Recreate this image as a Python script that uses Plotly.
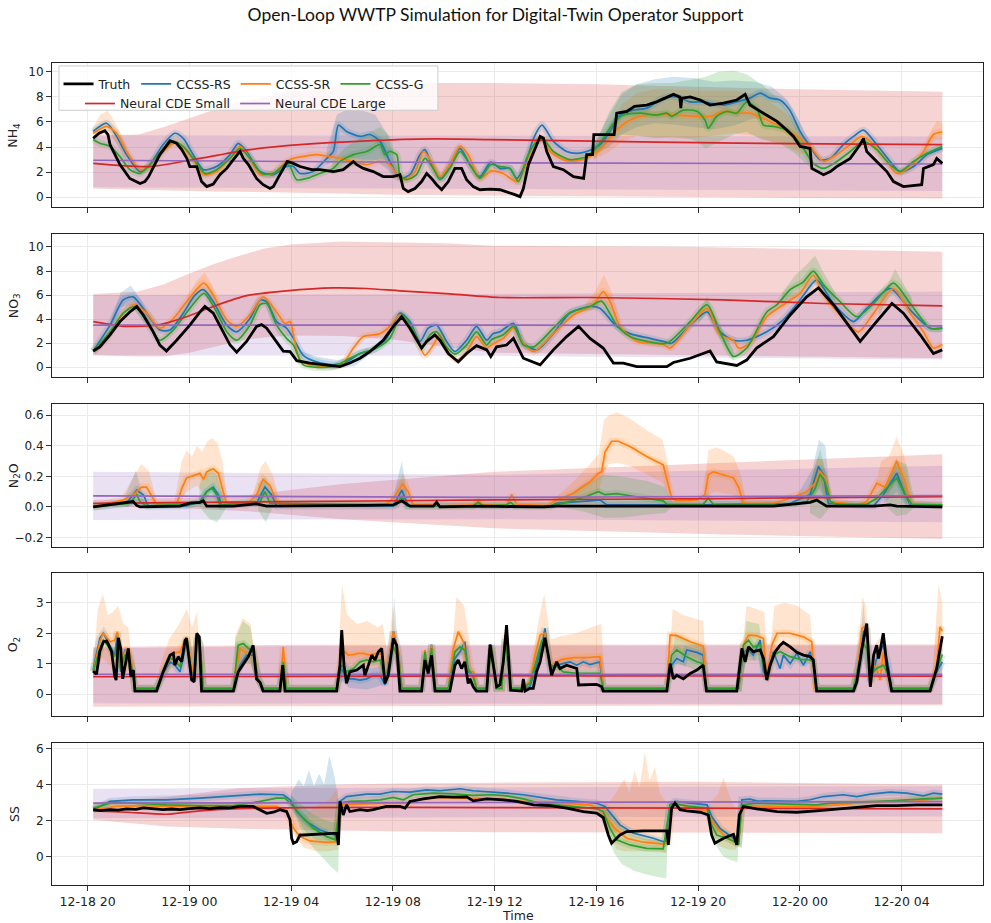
import numpy as np
import pandas as pd
import plotly.graph_objects as go

BASE = pd.Timestamp("2024-12-18 20:00")

# ---------------- NH4 ----------------
NH4_TRUTH = [(0.22,4.7),(0.45,5.1),(0.68,5.3),(0.8,5.0),(0.88,4.2),(1.27,2.6),(1.66,1.5),(2.06,1.1),(2.25,1.25),(2.4,1.65),(2.84,3.4),(3.24,4.5),(3.5,4.3),(3.7,3.8),(3.9,3.1),(4.02,2.45),(4.29,2.45),(4.48,1.25),(4.68,0.85),(4.94,1.05),(5.2,1.8),(5.47,2.3),(5.73,3.0),(5.99,3.65),(6.12,3.1),(6.32,2.6),(6.64,1.5),(6.9,1.0),(7.17,0.7),(7.3,0.85),(7.56,1.8),(7.76,2.45),(7.85,2.85),(8.09,2.7),(8.35,2.45),(8.81,2.2),(9.13,2.2),(9.66,2.05),(10.05,2.2),(10.45,2.85),(10.58,2.6),(10.84,2.3),(11.23,2.05),(11.62,1.65),(12.0,1.65),(12.28,1.8),(12.41,0.7),(12.6,0.45),(12.87,0.7),(13.13,1.25),(13.33,1.9),(13.52,1.5),(13.72,1.0),(13.92,0.6),(14.18,1.25),(14.44,2.3),(14.7,2.3),(14.9,1.4),(15.16,0.85),(15.42,0.6),(15.82,0.65),(16.21,0.6),(16.47,0.45),(16.74,0.25),(17.0,0.05),(17.13,0.7),(17.33,2.6),(17.53,3.65),(17.79,4.85),(17.92,4.7),(18.05,3.65),(18.31,2.45),(18.7,2.2),(19.1,1.65),(19.5,1.5),(19.62,3.4),(19.85,3.4),(19.9,5.0),(20.7,5.0),(20.8,6.7),(21.2,6.85),(21.5,7.25),(21.98,7.35),(22.37,7.6),(22.77,8.0),(23.03,8.2),(23.28,8.0),(23.32,7.1),(23.36,7.9),(23.69,8.0),(24.08,7.75),(24.47,7.35),(25.0,7.5),(25.52,7.75),(25.85,8.2),(26.04,7.35),(26.57,6.7),(27.1,6.05),(27.49,5.35),(27.75,4.85),(28.01,4.05),(28.4,3.9),(28.47,2.3),(28.93,1.8),(29.2,2.05),(29.45,2.45),(29.98,3.1),(30.37,4.2),(30.5,4.7),(30.63,3.65),(31.02,2.85),(31.42,2.05),(31.68,1.25),(32.07,0.85),(32.79,1.0),(32.86,2.3),(33.25,2.6),(33.38,3.1),(33.6,2.7)]
NH4_RS = [(0.22,5.25),(0.75,5.9),(1.14,4.85),(1.53,3.4),(2.06,2.05),(2.45,2.6),(2.97,4.2),(3.43,5.1),(3.76,4.7),(4.15,3.4),(4.55,2.2),(5.07,2.45),(5.6,3.4),(5.92,4.3),(6.25,3.65),(6.78,2.05),(7.3,1.8),(7.82,2.45),(8.09,2.45),(8.35,1.9),(8.87,2.05),(9.4,3.1),(9.66,3.65),(9.86,5.75),(10.18,5.25),(10.71,4.85),(11.1,5.0),(11.5,4.45),(11.88,2.85),(12.28,1.5),(12.67,1.8),(13.07,3.4),(13.26,3.8),(13.59,2.3),(13.92,1.5),(14.24,2.6),(14.64,3.9),(15.03,2.6),(15.42,1.65),(15.85,2.8),(16.21,2.3),(16.6,2.3),(16.87,1.5),(17.2,2.6),(17.53,4.7),(17.86,5.75),(18.31,4.45),(18.83,3.65),(19.23,3.5),(19.62,3.65),(20.14,4.2),(20.54,5.25),(20.93,6.55),(21.45,6.95),(21.98,7.1),(22.63,7.9),(23.16,8.0),(23.69,7.6),(24.2,7.6),(25.0,7.35),(25.52,7.6),(26.04,7.9),(26.44,8.3),(26.83,7.9),(27.22,7.75),(27.6,6.95),(28.01,5.25),(28.4,4.05),(28.79,3.0),(29.2,3.1),(29.71,4.2),(30.11,4.85),(30.5,5.35),(31.02,4.2),(31.55,2.85),(31.94,2.05),(32.47,2.45),(33.0,3.4),(33.6,3.9)]
NH4_SR = [(0.22,5.1),(0.75,5.65),(1.14,5.1),(1.53,3.65),(2.06,2.2),(2.45,2.45),(2.97,3.65),(3.37,4.3),(3.7,4.05),(4.15,3.0),(4.55,1.8),(5.07,2.05),(5.6,3.1),(5.99,4.05),(6.32,3.25),(6.78,1.8),(7.3,1.9),(7.82,2.85),(8.09,3.1),(8.48,3.25),(9.0,3.4),(9.53,3.25),(9.92,3.1),(10.45,2.85),(10.97,2.6),(11.5,2.85),(11.88,2.6),(12.22,1.65),(12.48,1.4),(12.87,2.05),(13.2,3.65),(13.52,2.85),(13.85,1.65),(14.24,2.6),(14.64,4.05),(14.96,3.4),(15.42,1.5),(15.88,2.1),(16.34,1.9),(16.87,1.25),(17.26,2.6),(17.65,4.6),(17.86,4.7),(18.18,3.65),(18.7,3.0),(19.23,2.9),(19.75,3.25),(20.27,4.05),(20.8,5.35),(21.32,6.15),(21.98,6.55),(22.63,6.6),(23.16,6.55),(23.95,6.45),(24.47,6.45),(25.0,6.85),(25.52,6.7),(26.04,6.7),(26.7,6.15),(27.35,5.5),(27.88,4.85),(28.4,4.05),(28.93,2.85),(29.45,3.4),(29.98,4.2),(30.44,4.85),(30.9,4.2),(31.42,2.85),(31.81,1.9),(32.34,2.45),(32.86,3.65),(33.25,5.0),(33.6,5.2)]
NH4_G = [(0.22,4.6),(0.48,4.3),(0.88,4.05),(1.27,3.25),(1.66,2.2),(2.06,1.9),(2.45,2.6),(2.97,3.8),(3.37,4.45),(3.76,4.05),(4.15,3.1),(4.61,1.9),(5.07,2.2),(5.6,3.1),(5.99,3.9),(6.38,3.1),(6.84,1.9),(7.3,1.9),(7.82,2.7),(7.96,2.45),(8.22,1.4),(8.61,1.5),(9.13,1.9),(9.66,2.3),(9.92,2.85),(10.45,3.4),(10.97,3.65),(11.5,4.2),(11.69,3.4),(11.88,3.65),(12.15,3.4),(12.28,1.8),(12.54,1.4),(12.93,1.8),(13.26,3.1),(13.59,2.3),(13.85,1.4),(14.24,2.3),(14.64,3.65),(15.03,2.6),(15.42,1.5),(15.85,2.6),(16.21,2.45),(16.6,2.3),(16.94,1.25),(17.26,3.1),(17.59,4.3),(17.92,4.6),(18.31,3.65),(18.96,3.0),(19.62,3.25),(20.14,4.3),(20.67,5.9),(21.06,6.55),(21.72,6.7),(22.37,6.55),(22.77,6.7),(22.96,6.45),(23.42,6.95),(23.95,6.85),(24.27,6.15),(24.4,5.5),(24.73,6.45),(25.13,6.85),(25.52,6.7),(25.91,7.6),(26.3,7.1),(26.57,5.75),(26.96,5.65),(27.49,5.35),(28.01,4.3),(28.53,2.7),(28.93,2.3),(29.45,2.85),(29.98,3.65),(30.5,4.45),(31.02,3.8),(31.55,2.6),(31.94,2.05),(32.47,2.85),(33.0,3.5),(33.6,4.05)]
NH4_SMALL = [(0.22,2.7),(2.45,2.45),(4.42,3.1),(6.38,3.8),(8.35,4.2),(10.97,4.5),(13.59,4.65),(15.82,4.6),(22.37,4.4),(28.93,4.25),(33.6,4.2)]
NH4_LARGE = [(0.22,2.95),(16.0,2.75),(33.6,2.65)]
NH4_SMALL_BAND = [(0.22,0.7,4.9),(2.0,0.6,5.0),(3.0,0.55,5.6),(4.0,0.5,6.3),(5.0,0.47,7.0),(6.0,0.45,7.6),(8.0,0.4,8.4),(10.0,0.3,8.9),(12.0,0.2,9.1),(16.0,0.1,9.1),(20.0,0.05,9.0),(24.0,0.0,8.8),(28.0,-0.05,8.6),(33.6,-0.1,8.4)]
NH4_LARGE_BAND = [(0.22,0.8,4.95),(16.0,0.65,4.9),(33.6,0.5,4.85)]
NH4_RS_PATCHES = [
    [(9.4,2.6,3.8),(9.8,3.0,6.6),(10.2,3.2,7.0),(10.8,3.0,6.9),(11.3,3.0,6.6),(11.8,2.2,5.0),(12.1,1.3,2.6)],
    [(19.9,3.4,4.2),(20.5,4.0,6.5),(21.0,5.0,8.2),(21.6,5.6,9.0),(22.3,5.9,9.4),(23.0,5.8,9.6),(23.8,5.6,9.5),(24.6,5.4,9.2),(25.4,5.7,9.3),(26.2,6.3,9.2),(26.9,6.1,8.8),(27.5,5.3,7.8),(28.0,4.4,6.0),(28.4,3.6,4.4)],
]
NH4_SR_PATCHES = [
    [(0.22,4.6,5.6),(0.5,4.9,6.6),(0.8,5.0,6.9),(1.1,4.4,5.9),(1.5,3.1,4.2)],
    [(19.9,3.0,3.8),(20.5,3.6,5.6),(21.0,4.4,7.4),(21.6,4.9,8.3),(22.3,4.8,8.6),(23.0,4.7,8.6),(23.8,4.7,8.5),(24.6,4.9,8.5),(25.4,5.1,8.5),(26.2,4.9,8.2),(26.9,4.4,7.5),(27.5,4.1,6.6),(28.0,3.5,5.2),(28.4,3.5,4.3)],
    [(32.9,3.3,4.0),(33.2,4.4,5.5),(33.4,4.6,6.1),(33.6,4.6,5.9)],
]
NH4_G_PATCHES = [
    [(9.6,1.8,2.8),(10.1,2.2,3.9),(10.6,2.6,4.6),(11.1,2.8,5.2),(11.5,3.1,5.6),(11.9,2.8,4.8),(12.2,1.3,2.3)],
    [(19.9,3.0,4.0),(20.5,4.6,6.8),(21.0,5.0,8.4),(21.6,4.9,9.0),(22.3,4.7,9.1),(23.0,4.8,9.1),(23.8,4.6,9.4),(24.3,3.9,9.6),(24.8,4.4,10.0),(25.4,5.0,10.1),(25.9,5.2,9.8),(26.5,4.6,9.0),(27.2,4.3,7.8),(27.8,3.5,6.0),(28.4,2.4,3.6)],
]

# ---------------- NO3 ----------------
NO3_TRUTH = [(0.22,1.35),(0.48,1.7),(0.88,2.7),(1.27,3.8),(1.66,4.6),(1.93,5.05),(2.19,4.35),(2.58,2.95),(2.84,1.85),(3.1,1.35),(3.5,2.25),(4.02,3.5),(4.42,4.6),(4.61,5.05),(4.94,4.5),(5.33,2.95),(5.6,1.85),(5.86,1.25),(6.25,2.15),(6.64,3.4),(6.84,3.55),(7.04,3.25),(7.43,2.15),(7.69,1.35),(7.96,1.3),(8.22,0.55),(8.74,0.35),(9.4,0.2),(9.92,0.05),(10.31,0.35),(10.71,0.75),(11.1,1.3),(11.62,2.25),(12.02,3.4),(12.35,4.2),(12.67,3.25),(13.13,1.6),(13.33,2.15),(13.65,2.7),(13.85,2.25),(14.18,1.15),(14.57,0.45),(14.9,1.15),(15.29,1.8),(15.69,1.45),(15.85,0.9),(16.08,1.7),(16.47,1.85),(16.74,2.4),(17.13,0.75),(17.79,0.2),(18.31,1.45),(18.83,2.55),(19.3,3.4),(19.75,2.4),(20.27,1.6),(20.67,0.35),(21.06,0.35),(21.59,0.05),(22.77,0.05),(23.03,0.4),(23.69,0.75),(24.47,1.35),(24.73,0.45),(25.52,0.15),(25.91,0.6),(26.3,1.6),(26.96,2.55),(27.62,4.35),(28.27,5.85),(28.73,6.6),(29.32,5.2),(29.98,3.25),(30.37,2.15),(30.9,3.5),(31.62,5.3),(32.07,4.5),(32.73,2.7),(33.25,1.15),(33.6,1.45)]
NO3_RS = [(0.22,1.35),(0.88,3.5),(1.4,5.6),(1.79,5.85),(2.32,4.5),(2.84,3.1),(3.24,3.1),(3.76,4.5),(4.22,6.0),(4.55,6.45),(4.94,5.45),(5.47,3.5),(5.86,2.95),(6.38,4.05),(6.78,5.6),(7.04,5.45),(7.43,3.8),(7.82,3.25),(8.09,2.4),(8.48,1.0),(9.0,0.45),(9.66,0.2),(10.18,0.45),(10.71,1.15),(11.23,1.45),(11.75,2.4),(12.28,4.5),(12.67,3.8),(13.07,2.15),(13.39,3.25),(13.72,3.5),(14.11,2.15),(14.44,1.3),(14.9,2.25),(15.29,3.4),(15.69,2.25),(15.95,2.8),(16.21,2.95),(16.74,3.65),(17.13,2.0),(17.66,1.45),(18.31,2.8),(18.96,4.5),(19.75,5.05),(20.14,4.9),(20.8,3.4),(21.32,2.8),(22.11,2.4),(22.63,2.15),(22.96,2.0),(23.69,3.5),(24.35,4.6),(24.86,2.95),(25.39,2.25),(25.91,2.25),(26.7,2.95),(27.35,3.95),(28.01,5.6),(28.66,7.25),(29.32,5.3),(30.11,3.8),(30.63,4.9),(31.55,6.55),(32.34,4.75),(33.12,3.25),(33.6,3.25)]
NO3_SR = [(0.22,1.3),(0.75,2.4),(1.27,4.05),(1.79,5.2),(2.32,4.5),(2.84,3.25),(3.37,4.05),(3.89,5.45),(4.57,7.0),(4.94,6.0),(5.47,3.95),(5.86,3.4),(6.38,4.35),(6.9,5.85),(7.43,4.6),(7.76,3.65),(7.96,3.8),(8.09,2.7),(8.35,0.6),(8.74,0.2),(9.66,0.05),(10.05,0.35),(10.45,1.6),(10.84,2.55),(11.5,2.8),(11.88,3.4),(12.28,4.35),(12.8,2.95),(13.26,1.0),(13.59,1.85),(13.85,2.7),(14.18,1.3),(14.51,0.6),(14.9,1.3),(15.29,2.55),(15.69,1.6),(15.9,1.9),(16.34,2.4),(16.74,3.25),(17.13,2.0),(17.53,1.3),(18.31,2.8),(19.1,4.35),(19.88,5.2),(20.27,6.3),(20.54,5.45),(20.93,3.4),(21.59,2.15),(22.63,1.9),(22.9,1.6),(23.69,3.5),(24.35,4.9),(24.86,2.7),(25.39,2.25),(25.59,1.6),(26.04,2.0),(26.7,4.2),(27.35,5.2),(28.01,6.15),(28.53,7.65),(28.93,6.0),(29.58,4.35),(30.3,2.95),(30.9,4.5),(31.68,6.55),(32.34,4.5),(32.86,2.95),(33.25,1.6),(33.6,1.9)]
NO3_G = [(0.22,1.3),(0.88,2.95),(1.4,4.5),(1.86,5.05),(2.32,3.8),(2.84,2.25),(3.37,3.1),(4.02,4.9),(4.57,6.15),(5.07,4.6),(5.47,2.95),(5.86,2.25),(6.38,3.5),(6.78,5.2),(7.04,5.3),(7.43,3.5),(7.82,2.4),(8.09,1.85),(8.48,0.2),(9.66,0.05),(10.31,0.75),(10.71,1.15),(11.36,1.6),(11.88,2.4),(12.35,4.35),(12.8,3.1),(13.13,1.6),(13.46,2.7),(13.72,2.95),(14.11,1.7),(14.44,1.1),(14.9,1.85),(15.29,2.95),(15.69,1.85),(15.88,2.3),(16.34,2.7),(16.74,3.4),(17.13,1.85),(17.53,1.7),(18.31,3.25),(18.96,4.55),(19.75,5.05),(20.2,5.5),(20.8,3.5),(21.32,2.55),(22.11,2.1),(22.77,2.0),(23.69,3.8),(24.35,5.2),(24.86,2.95),(25.39,0.9),(25.91,1.6),(26.7,4.6),(27.1,5.2),(27.62,6.45),(28.14,7.1),(28.53,8.0),(28.93,6.85),(29.58,5.45),(30.24,4.2),(30.9,5.3),(31.68,7.0),(32.34,5.3),(33.12,3.25),(33.6,3.25)]
NO3_SMALL = [(0.22,3.8),(1.53,3.4),(2.84,3.55),(3.89,4.2),(4.94,5.05),(6.25,5.95),(7.82,6.35),(9.66,6.6),(10.97,6.55),(12.28,6.35),(14.24,6.1),(16.21,5.8),(19.75,5.8),(25.0,5.6),(28.93,5.3),(33.6,5.1)]
NO3_LARGE = [(0.22,3.5),(16.0,3.5),(33.6,3.45)]
NO3_SMALL_BAND = [(0.22,1.0,6.1),(2.0,0.9,6.3),(3.0,0.9,6.9),(4.0,1.2,7.8),(5.0,1.7,8.6),(6.0,2.2,9.3),(7.0,2.5,9.9),(8.0,2.65,10.2),(10.0,2.6,10.45),(12.0,2.3,10.4),(14.0,1.7,10.3),(16.0,1.2,10.1),(24.0,1.0,10.0),(33.6,0.75,9.6)]
NO3_LARGE_BAND = [(0.22,1.0,6.0),(16.0,0.95,6.1),(33.6,0.65,6.3)]
NO3_RS_PATCHES = [
    [(0.9,3.1,3.9),(1.3,5.0,6.2),(1.7,5.2,6.8),(2.1,4.1,5.6),(2.5,3.0,4.0)],
    [(8.3,0.5,1.4),(9.0,-0.1,0.9),(9.8,-0.15,0.6),(10.5,0.1,0.9),(11.0,0.9,1.6)],
]
NO3_SR_PATCHES = [
    [(3.9,5.0,5.9),(4.3,6.0,7.2),(4.6,6.2,7.9),(4.9,5.3,6.8),(5.3,3.4,4.6)],
    [(19.6,4.8,5.4),(19.95,5.0,6.3),(20.3,5.3,7.7),(20.6,4.8,6.3),(20.95,3.0,3.9)],
]
NO3_G_PATCHES = [
    [(27.3,5.0,6.2),(27.8,5.8,7.6),(28.3,6.7,8.6),(28.6,7.0,9.3),(28.9,6.0,8.0),(29.4,4.8,6.2)],
    [(31.1,4.3,5.3),(31.5,5.8,7.0),(31.75,6.2,8.2),(32.0,5.7,7.2),(32.4,4.6,5.8)],
    [(24.0,3.6,4.4),(24.35,4.5,5.9),(24.7,3.0,4.0),(25.4,0.5,1.5)],
]

# ---------------- N2O ----------------
N2O_TRUTH = [(0.22,0.0),(0.75,0.013),(1.0,0.02),(1.27,0.025),(1.79,0.035),(1.93,0.01),(2.06,0.0),(3.63,0.005),(4.02,0.025),(4.42,0.03),(4.55,0.04),(4.68,0.005),(5.73,0.005),(6.64,0.02),(7.04,0.005),(10.97,0.01),(12.02,0.013),(12.35,0.04),(12.67,0.005),(13.59,0.005),(13.72,0.03),(13.85,0.0),(15.42,0.005),(17.92,0.0),(18.44,0.005),(26.96,0.005),(27.62,0.017),(28.4,0.03),(28.66,0.045),(29.05,0.005),(30.9,0.005),(31.55,0.013),(31.81,0.005),(33.6,0.0)]
N2O_RS = [(0.22,0.0),(1.53,0.024),(1.93,0.11),(2.19,0.08),(2.38,0.007),(3.89,0.007),(4.42,0.035),(4.68,0.1),(4.94,0.13),(5.14,0.08),(5.27,0.007),(6.64,0.024),(6.97,0.13),(7.23,0.08),(7.43,0.007),(12.02,0.007),(12.35,0.11),(12.6,0.007),(18.2,0.007),(18.44,0.024),(19.75,0.04),(20.14,0.046),(20.41,0.013),(24.2,0.013),(27.62,0.024),(28.4,0.08),(28.73,0.265),(28.93,0.21),(29.12,0.024),(30.9,0.007),(31.28,0.08),(31.81,0.22),(32.14,0.08),(32.34,0.013),(33.6,0.007)]
N2O_SR = [(0.22,0.0),(0.88,0.024),(1.4,0.046),(1.8,0.08),(2.12,0.13),(2.32,0.13),(2.52,0.07),(2.71,0.017),(3.5,0.017),(3.7,0.12),(3.89,0.19),(4.29,0.21),(4.42,0.22),(4.55,0.18),(4.68,0.23),(4.94,0.25),(5.14,0.22),(5.33,0.1),(5.47,0.02),(6.25,0.013),(6.64,0.08),(6.9,0.18),(7.17,0.14),(7.43,0.035),(7.69,0.013),(11.62,0.013),(11.88,0.035),(12.15,0.09),(12.38,0.15),(12.6,0.1),(12.8,0.013),(13.59,0.013),(13.72,0.035),(13.85,0.005),(15.16,0.013),(15.36,0.04),(15.55,0.013),(16.47,0.013),(16.67,0.08),(16.87,0.017),(18.05,0.009),(18.44,0.045),(19.1,0.09),(19.75,0.165),(20.08,0.22),(20.21,0.23),(20.34,0.36),(20.6,0.43),(20.87,0.43),(21.32,0.395),(21.98,0.33),(22.63,0.275),(22.77,0.19),(22.96,0.057),(23.16,0.04),(23.95,0.046),(24.27,0.08),(24.4,0.21),(24.6,0.23),(25.0,0.21),(25.39,0.19),(25.59,0.13),(25.78,0.024),(26.96,0.024),(27.62,0.057),(28.27,0.1),(28.6,0.155),(28.79,0.235),(28.99,0.19),(29.2,0.035),(30.24,0.013),(30.63,0.035),(31.02,0.155),(31.35,0.13),(31.81,0.3),(32.14,0.165),(32.34,0.024),(33.6,0.007)]
N2O_G = [(0.22,0.0),(1.66,0.024),(1.93,0.08),(2.06,0.035),(2.32,0.007),(4.42,0.024),(4.68,0.1),(4.88,0.125),(5.07,0.08),(5.2,0.013),(6.78,0.035),(6.97,0.1),(7.17,0.024),(12.15,0.013),(12.35,0.07),(12.54,0.007),(15.16,0.007),(15.36,0.03),(15.55,0.007),(16.47,0.013),(16.63,0.03),(16.8,0.007),(18.18,0.007),(18.83,0.03),(19.62,0.07),(20.08,0.1),(20.34,0.08),(20.8,0.087),(21.45,0.07),(22.63,0.04),(22.77,0.017),(24.2,0.017),(24.4,0.057),(24.6,0.017),(27.62,0.017),(28.27,0.035),(28.6,0.118),(28.79,0.214),(28.99,0.165),(29.2,0.035),(29.45,0.017),(30.63,0.017),(31.02,0.057),(31.81,0.19),(32.14,0.08),(32.4,0.017),(33.6,0.013)]
N2O_SMALL = [(0.22,0.024),(8.0,0.035),(16.0,0.046),(25.0,0.055),(33.6,0.068)]
N2O_LARGE = [(0.22,0.073),(16.0,0.062),(33.6,0.075)]
N2O_SMALL_BAND = [(0.22,0.005,0.045),(4.0,-0.01,0.06),(6.4,-0.03,0.08),(10.0,-0.08,0.15),(16.0,-0.14,0.23),(25.0,-0.18,0.29),(33.6,-0.21,0.345)]
N2O_LARGE_BAND = [(0.22,-0.085,0.23),(16.0,-0.08,0.21),(33.6,-0.1,0.27)]
N2O_RS_PATCHES = [
    [(1.5,0.0,0.08),(1.9,0.02,0.24),(2.2,0.0,0.05)],
    [(12.0,0.0,0.05),(12.35,0.02,0.3),(12.6,0.0,0.03)],
    [(27.8,0.0,0.05),(28.5,0.05,0.25),(28.75,0.12,0.44),(29.0,0.05,0.4),(29.2,0.0,0.05)],
    [(31.3,0.02,0.12),(31.8,0.1,0.32),(32.2,0.0,0.1)],
]
N2O_SR_PATCHES = [
    [(1.4,0.0,0.08),(1.8,0.04,0.2),(2.1,0.08,0.28),(2.4,0.06,0.24),(2.7,0.0,0.05)],
    [(3.4,0.0,0.03),(3.7,0.05,0.3),(3.9,0.1,0.37),(4.1,0.12,0.33),(4.3,0.14,0.4),(4.5,0.1,0.36),(4.7,0.13,0.43),(4.9,0.15,0.45),(5.1,0.12,0.42),(5.3,0.03,0.3),(5.5,0.0,0.03)],
    [(6.4,0.0,0.02),(6.8,0.06,0.26),(7.0,0.1,0.3),(7.3,0.05,0.2),(7.6,0.0,0.02)],
    [(12.0,0.0,0.02),(12.2,0.05,0.15),(12.4,0.08,0.22),(12.6,0.05,0.16),(12.8,0.0,0.02)],
    [(18.3,0.0,0.05),(19.0,0.03,0.15),(19.7,0.07,0.27),(20.1,0.1,0.35),(20.3,0.23,0.57),(20.5,0.28,0.6),(20.8,0.29,0.62),(21.3,0.27,0.58),(22.0,0.21,0.5),(22.6,0.16,0.44),(22.8,0.1,0.3),(23.0,0.03,0.06)],
    [(24.2,0.0,0.05),(24.4,0.08,0.37),(24.7,0.1,0.39),(25.0,0.09,0.37),(25.4,0.08,0.33),(25.7,0.03,0.2),(25.9,0.0,0.03)],
    [(28.4,0.05,0.15),(28.7,0.14,0.33),(28.9,0.1,0.3),(29.2,0.0,0.05)],
    [(30.9,0.02,0.1),(31.2,0.06,0.3),(31.5,0.08,0.33),(31.8,0.17,0.46),(32.1,0.08,0.34),(32.4,0.0,0.05)],
]
N2O_G_PATCHES = [
    [(4.4,0.0,0.15),(4.8,-0.08,0.26),(5.1,-0.1,0.2),(5.4,-0.02,0.03)],
    [(6.7,-0.02,0.15),(7.0,-0.1,0.2),(7.3,0.0,0.05)],
    [(18.5,0.0,0.03),(19.5,-0.03,0.15),(20.3,-0.07,0.21),(21.0,-0.07,0.2),(22.0,-0.05,0.17),(22.7,-0.04,0.13),(23.0,0.0,0.03)],
    [(28.4,-0.04,0.15),(28.8,-0.08,0.38),(29.2,0.0,0.1)],
    [(31.4,0.0,0.12),(31.8,-0.06,0.3),(32.2,-0.05,0.28),(32.5,0.0,0.05)],
]

# ---------------- O2 ----------------
O2_TRUTH = [(0.22,0.75),(0.35,0.65),(0.48,1.4),(0.62,1.72),(0.75,1.74),(0.94,1.4),(1.07,0.57),(1.12,0.46),(1.21,1.85),(1.3,1.5),(1.38,0.5),(1.6,1.5),(1.7,0.57),(1.8,0.79),(1.86,0.1),(2.71,0.1),(2.97,0.73),(3.24,1.28),(3.37,1.34),(3.43,0.95),(3.56,1.23),(3.7,1.06),(3.83,1.77),(3.89,1.83),(4.09,0.46),(4.19,0.4),(4.29,2.0),(4.39,1.88),(4.48,0.1),(5.73,0.1),(5.92,0.73),(6.12,1.0),(6.32,1.23),(6.51,1.6),(6.64,0.5),(6.78,0.38),(6.9,0.1),(7.56,0.1),(7.67,0.95),(7.76,0.1),(9.79,0.1),(9.92,0.95),(9.99,2.1),(10.08,0.95),(10.18,0.35),(10.31,0.73),(10.58,0.79),(10.84,0.95),(10.9,0.62),(11.04,0.95),(11.17,1.28),(11.3,1.12),(11.43,1.39),(11.56,1.5),(11.69,0.35),(11.82,0.62),(12.02,1.83),(12.15,1.6),(12.28,0.1),(13.13,0.1),(13.26,1.12),(13.39,0.68),(13.52,1.28),(13.66,0.1),(14.24,0.1),(14.44,0.95),(14.57,1.12),(14.7,0.84),(14.83,1.06),(14.96,0.35),(15.03,0.5),(15.16,0.24),(15.29,0.1),(15.69,0.1),(15.82,1.63),(15.95,0.95),(16.08,0.24),(16.21,0.3),(16.34,1.06),(16.47,2.27),(16.58,0.95),(16.63,0.13),(17.07,0.1),(17.13,0.5),(17.2,0.1),(17.39,0.19),(17.52,0.19),(17.65,0.73),(17.79,1.06),(17.98,1.85),(18.11,1.28),(18.24,0.62),(18.44,1.06),(18.57,0.84),(18.83,0.95),(19.1,0.87),(19.23,0.84),(19.3,0.3),(20.01,0.32),(20.21,0.24),(20.27,0.1),(22.77,0.1),(22.9,1.0),(23.03,0.5),(23.16,0.62),(23.42,0.5),(23.69,0.68),(23.95,0.79),(24.2,0.95),(24.33,0.1),(25.52,0.1),(25.72,1.5),(25.85,1.06),(25.98,1.55),(26.17,1.39),(26.44,1.45),(26.57,1.17),(26.7,0.46),(26.83,0.95),(27.03,1.39),(27.22,1.6),(27.35,1.7),(27.62,1.55),(27.88,1.37),(28.14,1.28),(28.4,1.23),(28.53,1.12),(28.66,0.1),(30.11,0.1),(30.24,0.4),(30.44,1.5),(30.63,2.32),(30.77,0.24),(30.9,1.28),(31.02,1.61),(31.09,1.17),(31.15,1.39),(31.28,2.0),(31.42,0.95),(31.61,0.1),(33.12,0.1),(33.38,0.84),(33.6,1.9)]
O2_RS = [(0.22,0.79),(0.48,1.83),(0.62,2.0),(0.88,1.61),(1.07,1.28),(1.17,2.0),(1.3,0.73),(1.47,1.45),(1.6,1.34),(1.73,0.95),(1.86,0.19),(2.71,0.19),(2.97,0.68),(3.24,1.06),(3.43,0.95),(3.63,0.73),(3.89,1.72),(4.09,0.62),(4.19,0.46),(4.31,1.88),(4.42,1.61),(4.55,0.19),(5.73,0.19),(5.99,0.95),(6.25,1.28),(6.51,1.28),(6.71,0.5),(6.9,0.19),(7.56,0.19),(7.69,0.95),(7.82,0.19),(9.79,0.19),(9.99,0.84),(10.18,0.5),(10.45,0.5),(10.71,0.46),(10.97,0.5),(11.23,0.62),(11.5,0.62),(11.69,0.3),(12.02,2.05),(12.22,1.39),(12.35,0.19),(13.13,0.19),(13.26,1.28),(13.39,0.73),(13.52,1.63),(13.66,0.19),(14.18,0.19),(14.44,1.17),(14.64,1.39),(14.83,1.72),(14.96,0.73),(15.16,0.62),(15.29,0.19),(15.69,0.19),(15.88,1.61),(16.08,0.19),(16.28,0.19),(16.41,1.83),(16.54,0.95),(16.63,0.19),(17.07,0.19),(17.39,0.24),(17.65,0.95),(17.86,1.61),(17.98,2.16),(18.18,0.84),(18.44,0.95),(18.7,1.0),(18.96,1.06),(19.23,0.95),(19.49,1.06),(19.75,0.97),(20.14,1.06),(20.27,0.19),(22.77,0.19),(22.96,0.95),(23.16,1.17),(23.42,1.06),(23.55,1.45),(23.95,1.37),(24.2,1.28),(24.33,0.19),(25.59,0.19),(25.78,1.39),(25.98,1.45),(26.17,1.28),(26.44,1.77),(26.57,0.73),(26.7,0.62),(26.96,1.39),(27.22,0.84),(27.35,1.28),(27.62,1.0),(27.88,1.34),(28.14,0.95),(28.4,1.39),(28.53,0.95),(28.66,0.19),(30.11,0.19),(30.3,0.95),(30.5,2.05),(30.63,2.16),(30.77,0.4),(31.02,1.17),(31.28,1.61),(31.48,0.95),(31.61,0.19),(33.12,0.19),(33.45,0.84),(33.6,1.06)]
O2_SR = [(0.22,0.73),(0.48,1.72),(0.62,2.0),(0.88,1.72),(1.07,1.77),(1.17,2.05),(1.3,0.95),(1.47,1.39),(1.6,1.5),(1.73,1.06),(1.86,0.19),(2.71,0.19),(2.97,0.73),(3.37,1.34),(3.63,1.39),(3.89,1.88),(4.09,0.95),(4.19,0.5),(4.31,1.94),(4.42,1.61),(4.55,0.19),(5.73,0.19),(5.99,1.5),(6.19,1.39),(6.38,1.28),(6.51,1.5),(6.71,0.5),(6.9,0.19),(7.56,0.19),(7.69,1.55),(7.82,0.19),(9.79,0.19),(9.99,1.39),(10.12,1.39),(10.25,1.28),(10.45,1.3),(10.64,1.34),(10.84,1.34),(11.1,1.28),(11.36,1.34),(11.56,1.3),(11.69,0.46),(11.82,0.95),(12.02,2.05),(12.22,1.39),(12.35,0.19),(13.13,0.19),(13.26,1.45),(13.39,0.73),(13.52,1.61),(13.66,0.19),(14.18,0.19),(14.38,1.5),(14.57,2.05),(14.77,1.72),(14.9,0.95),(15.03,0.73),(15.16,0.73),(15.29,0.19),(15.69,0.19),(15.88,1.55),(16.08,0.19),(16.28,0.19),(16.41,1.94),(16.54,0.95),(16.63,0.19),(17.07,0.19),(17.2,0.3),(17.39,0.4),(17.59,1.28),(17.79,1.94),(17.98,2.0),(18.18,0.95),(18.44,1.06),(18.64,1.14),(19.1,1.2),(19.62,1.2),(20.14,1.23),(20.27,0.19),(22.77,0.19),(22.9,1.94),(23.16,1.92),(23.69,1.72),(24.2,1.58),(24.33,0.19),(25.59,0.19),(25.78,1.61),(25.98,1.94),(26.3,1.92),(26.57,1.83),(26.7,0.5),(26.9,1.61),(27.1,2.0),(27.62,2.0),(28.14,1.88),(28.47,1.72),(28.6,0.19),(30.11,0.19),(30.3,0.95),(30.44,2.16),(30.63,2.27),(30.77,0.46),(30.9,0.95),(31.02,0.84),(31.15,0.46),(31.28,1.39),(31.42,0.62),(31.61,0.19),(33.12,0.19),(33.38,0.95),(33.51,2.21),(33.6,2.07)]
O2_G = [(0.22,0.73),(0.48,1.5),(0.62,1.77),(0.88,1.5),(1.07,1.23),(1.17,1.55),(1.3,0.84),(1.47,1.28),(1.6,1.28),(1.73,0.9),(1.86,0.19),(2.71,0.19),(2.97,0.73),(3.24,1.17),(3.43,1.12),(3.63,0.9),(3.89,1.83),(4.09,0.73),(4.19,0.46),(4.31,1.83),(4.42,1.61),(4.55,0.19),(5.73,0.19),(5.92,1.61),(6.12,1.66),(6.32,1.5),(6.51,1.39),(6.71,0.5),(6.9,0.19),(7.56,0.19),(7.69,1.06),(7.82,0.19),(9.79,0.19),(9.99,0.95),(10.18,0.73),(10.45,0.84),(10.71,1.06),(10.97,1.12),(11.23,1.06),(11.5,1.12),(11.69,0.46),(12.02,1.55),(12.22,1.17),(12.35,0.19),(13.13,0.19),(13.26,1.39),(13.39,0.73),(13.52,1.5),(13.66,0.19),(14.18,0.19),(14.44,1.39),(14.64,1.55),(14.83,1.45),(14.96,0.84),(15.16,0.57),(15.29,0.19),(15.69,0.19),(15.88,1.5),(16.08,0.19),(16.28,0.19),(16.41,1.72),(16.54,0.95),(16.63,0.19),(17.07,0.19),(17.39,0.35),(17.65,1.17),(17.86,1.77),(17.98,1.83),(18.18,0.95),(18.44,0.9),(18.7,0.73),(19.23,0.68),(20.14,0.68),(20.27,0.19),(22.77,0.19),(22.96,1.28),(23.16,1.45),(23.55,1.23),(23.95,1.06),(24.2,1.0),(24.33,0.19),(25.59,0.19),(25.78,1.61),(25.98,1.77),(26.17,1.55),(26.44,1.61),(26.57,0.95),(26.7,0.5),(26.96,1.28),(27.22,1.39),(27.62,1.23),(28.01,1.14),(28.4,1.12),(28.53,1.06),(28.66,0.19),(30.11,0.19),(30.3,0.95),(30.5,1.66),(30.63,1.5),(30.77,0.62),(31.02,0.84),(31.28,0.95),(31.48,0.62),(31.61,0.19),(33.12,0.19),(33.45,0.95),(33.6,1.3)]
O2_SMALL = [(0.22,0.57),(8.0,0.58),(16.0,0.6),(33.6,0.59)]
O2_LARGE = [(0.22,0.65),(16.0,0.65),(33.6,0.65)]
O2_SMALL_BAND = [(0.22,-0.42,1.55),(8.0,-0.4,1.62),(33.6,-0.37,1.63)]
O2_LARGE_BAND = [(0.22,-0.3,1.5),(8.0,-0.31,1.58),(33.6,-0.33,1.6)]
O2_RS_PATCHES = [
    [(9.9,0.5,1.3),(10.3,0.2,0.9),(11.0,0.15,0.85),(11.6,0.3,0.9)],
    [(11.9,0.5,1.0),(12.05,1.2,3.2),(12.25,0.3,1.0)],
    [(30.3,0.3,1.0),(30.5,1.2,3.0),(30.7,0.3,1.0)],
]
O2_SR_PATCHES = [
    [(0.22,0.5,1.0),(0.4,0.9,2.8),(0.6,1.2,3.3),(0.8,1.0,2.6),(1.0,0.8,2.7),(1.2,1.1,2.9),(1.4,0.6,2.3),(1.6,0.8,2.2),(1.85,0.1,0.3)],
    [(2.8,0.2,0.8),(3.2,0.8,1.8),(3.6,1.0,2.3),(3.9,1.4,2.8),(4.1,0.5,2.2),(4.3,1.5,2.7),(4.5,0.1,0.3)],
    [(5.8,0.4,1.9),(6.1,1.0,2.5),(6.4,1.0,2.3),(6.7,0.3,0.6)],
    [(9.8,0.1,0.3),(10.0,0.9,3.6),(10.2,0.9,2.6),(10.6,0.9,2.3),(11.0,0.9,2.4),(11.4,0.9,2.2),(11.6,0.8,2.3),(11.8,0.3,1.2),(12.0,1.5,2.9),(12.3,0.1,0.3)],
    [(14.2,0.1,0.3),(14.5,1.2,3.2),(14.8,1.3,2.9),(15.1,0.5,1.3),(15.3,0.1,0.3)],
    [(17.4,0.2,0.5),(17.7,0.9,2.3),(17.95,1.4,3.3),(18.2,0.6,1.8),(18.6,0.7,1.9),(19.2,0.8,2.0),(19.8,0.8,2.2),(20.2,0.8,2.3),(20.3,0.1,0.3)],
    [(22.8,0.1,0.3),(23.0,1.4,2.8),(23.4,1.4,2.6),(23.8,1.2,2.5),(24.2,1.1,2.4),(24.35,0.1,0.3)],
    [(25.6,0.1,0.3),(25.9,1.2,2.9),(26.3,1.3,2.8),(26.6,1.2,2.7),(26.75,0.3,0.8),(27.0,1.3,2.9),(27.4,1.4,3.0),(27.9,1.3,2.9),(28.4,1.2,2.6),(28.65,0.1,0.3)],
    [(30.2,0.1,0.5),(30.45,1.4,3.2),(30.6,1.5,2.9),(30.8,0.2,0.8),(31.0,0.5,1.7),(31.3,0.8,2.0),(31.6,0.1,0.3)],
    [(33.2,0.1,0.5),(33.45,1.5,3.6),(33.6,1.3,3.0)],
]
O2_G_PATCHES = [
    [(5.8,0.9,1.8),(6.1,1.1,2.4),(6.4,1.0,2.2),(6.7,0.3,0.6)],
    [(22.8,0.1,0.3),(23.1,1.0,2.0),(23.6,0.9,1.8),(24.3,0.6,1.5)],
    [(25.6,0.1,0.3),(25.9,1.1,2.4),(26.4,1.1,2.3),(26.6,0.4,1.0)],
]

# ---------------- SS ----------------
SS_TRUTH = [(0.22,2.6),(0.5,2.55),(0.88,2.6),(1.2,2.58),(1.53,2.65),(1.9,2.62),(2.19,2.7),(2.6,2.63),(2.97,2.6),(3.3,2.64),(3.63,2.6),(4.0,2.66),(4.42,2.7),(4.8,2.66),(5.2,2.72),(5.6,2.7),(5.99,2.78),(6.51,2.78),(6.78,2.6),(7.04,2.4),(7.3,2.46),(7.56,2.6),(7.82,2.5),(7.96,2.04),(8.02,1.02),(8.09,0.74),(8.22,0.83),(8.35,1.2),(8.48,1.2),(9.0,1.24),(9.66,1.28),(9.79,1.3),(9.86,0.65),(9.92,3.06),(10.05,2.31),(10.18,2.87),(10.31,2.5),(10.71,2.6),(11.0,2.55),(11.23,2.6),(11.75,2.78),(12.28,2.78),(12.48,2.69),(12.67,3.06),(13.2,3.2),(13.85,3.33),(14.38,3.3),(14.9,3.31),(15.16,3.09),(15.69,3.2),(16.34,3.15),(16.87,3.06),(17.53,2.87),(18.18,2.83),(18.83,2.69),(19.49,2.5),(20.01,2.41),(20.27,2.17),(20.47,1.2),(20.6,0.74),(20.73,0.93),(20.93,1.2),(21.19,1.39),(21.85,1.43),(22.77,1.43),(22.83,0.65),(22.96,2.69),(23.09,2.96),(23.29,2.6),(23.55,2.54),(24.08,2.46),(24.4,2.31),(24.53,1.2),(24.66,0.74),(25.0,1.02),(25.39,1.24),(25.52,0.65),(25.62,2.31),(25.78,2.78),(26.3,2.65),(27.1,2.5),(27.88,2.46),(28.66,2.54),(29.45,2.65),(30.24,2.76),(31.02,2.83),(31.81,2.83),(32.6,2.87),(33.6,2.87)]
SS_RS = [(0.22,2.6),(0.88,3.06),(1.8,3.15),(3.1,3.15),(4.42,3.24),(5.73,3.37),(6.78,3.46),(7.69,3.43),(7.96,3.15),(8.22,2.5),(8.61,1.94),(9.13,1.48),(9.66,1.24),(9.79,1.11),(9.92,3.06),(10.18,3.33),(10.97,3.46),(11.5,3.46),(12.02,3.61),(12.67,3.57),(13.33,3.7),(13.85,3.65),(14.64,3.76),(15.16,3.65),(15.69,3.61),(16.21,3.57),(16.47,3.52),(17.13,3.43),(17.79,3.28),(18.44,3.15),(19.23,3.06),(20.01,2.96),(20.34,2.78),(20.6,2.31),(20.93,1.76),(21.45,1.3),(22.24,1.02),(22.7,0.8),(22.9,2.87),(23.09,3.06),(23.69,2.96),(24.35,2.87),(24.53,2.22),(24.86,1.57),(25.39,1.02),(25.59,0.83),(25.72,3.15),(26.04,3.19),(26.3,3.09),(27.1,3.06),(27.88,3.06),(28.4,3.15),(28.93,3.33),(29.71,3.43),(30.24,3.33),(30.77,3.46),(31.55,3.57),(32.2,3.52),(32.86,3.37),(33.25,3.52),(33.6,3.46)]
SS_SR = [(0.22,2.6),(1.14,2.78),(2.19,2.83),(3.1,2.78),(4.42,2.78),(5.73,2.78),(6.78,2.78),(7.43,2.78),(7.82,2.5),(8.09,1.57),(8.35,1.11),(8.74,0.87),(9.27,0.8),(9.73,0.8),(9.92,2.87),(10.18,2.87),(10.71,2.91),(11.23,2.94),(12.02,2.96),(12.67,2.96),(13.07,3.2),(13.59,3.28),(14.64,3.24),(15.69,3.24),(16.21,3.2),(17.13,3.06),(18.44,2.96),(19.75,2.87),(20.14,2.59),(20.41,2.13),(20.73,1.57),(21.19,1.02),(21.85,0.8),(22.63,0.69),(22.83,0.83),(22.96,2.78),(23.16,2.96),(23.69,2.69),(24.35,2.54),(24.6,1.85),(25.0,1.2),(25.39,0.83),(25.59,0.74),(25.72,2.78),(26.04,2.83),(27.1,2.78),(28.4,2.78),(29.45,2.87),(30.24,2.96),(31.55,3.06),(32.6,3.09),(33.6,3.24)]
SS_G = [(0.22,2.69),(0.88,2.96),(1.8,2.96),(3.1,2.87),(4.42,2.83),(5.73,2.83),(6.78,3.06),(7.43,3.24),(7.76,3.24),(8.09,2.78),(8.48,2.13),(8.87,1.57),(9.4,1.11),(9.73,0.93),(9.92,2.96),(10.31,3.06),(10.97,3.09),(11.5,3.15),(12.02,3.28),(12.41,3.15),(12.8,3.43),(13.59,3.52),(14.38,3.48),(15.16,3.39),(15.9,3.43),(16.47,3.37),(17.13,3.2),(17.79,2.96),(18.44,2.87),(19.23,2.78),(20.01,2.65),(20.27,2.5),(20.54,1.57),(20.8,0.93),(21.32,0.65),(21.98,0.46),(22.63,0.43),(22.9,2.87),(23.16,2.91),(23.69,2.78),(24.35,2.69),(24.53,1.76),(24.73,1.2),(25.13,1.02),(25.39,0.87),(25.59,0.65),(25.72,2.87),(26.3,2.96),(27.62,2.91),(28.66,2.87),(29.2,2.96),(30.24,3.0),(31.55,3.09),(32.86,3.2),(33.6,3.24)]
SS_SMALL = [(0.22,2.54),(1.53,2.46),(3.1,2.35),(4.42,2.54),(5.73,2.65),(8.35,2.72),(16.0,2.72),(24.0,2.69),(33.6,2.65)]
SS_LARGE = [(0.22,2.96),(16.0,3.0),(33.6,3.05)]
SS_SMALL_BAND = [(0.22,2.04,3.0),(3.1,1.67,3.3),(6.0,1.55,3.8),(8.35,1.48,3.9),(10.0,1.44,4.0),(12.28,1.39,4.05),(16.0,1.35,4.1),(24.0,1.32,4.15),(33.6,1.3,4.0)]
SS_LARGE_BAND = [(0.22,2.13,3.76),(16.0,2.18,3.85),(33.6,2.22,3.9)]
SS_RS_PATCHES = [
    [(8.0,3.0,3.5),(8.3,2.0,4.3),(8.5,1.5,3.9),(8.7,1.2,4.8),(8.9,1.0,3.9),(9.1,0.9,4.6),(9.3,0.9,4.0),(9.5,0.9,5.6),(9.7,0.9,4.5),(9.85,0.8,3.2)],
]
SS_SR_PATCHES = [
    [(8.0,2.2,2.9),(8.2,1.0,2.5),(8.5,0.5,2.3),(9.0,0.3,2.8),(9.5,0.3,3.2),(9.85,0.4,3.8)],
    [(20.2,2.3,2.9),(20.5,1.2,3.0),(20.8,0.4,3.6),(21.1,0.3,4.3),(21.3,0.3,3.5),(21.5,0.3,4.8),(21.7,0.3,3.8),(21.9,0.3,5.8),(22.1,0.3,4.2),(22.3,0.3,5.0),(22.5,0.3,3.5),(22.75,0.2,3.0)],
    [(24.5,1.5,3.0),(24.8,0.6,3.5),(25.0,0.5,4.4),(25.2,0.4,3.5),(25.5,0.4,2.5)],
]
SS_G_PATCHES = [
    [(8.0,3.0,3.4),(8.4,1.4,2.9),(8.8,0.6,2.4),(9.2,0.0,2.1),(9.6,-0.6,1.9),(9.85,-0.9,1.9),(9.92,2.7,3.0)],
    [(20.1,2.4,2.8),(20.4,1.3,2.6),(20.7,0.2,2.2),(21.0,-0.4,1.6),(21.5,-0.8,1.2),(22.0,-1.0,1.0),(22.5,-1.15,0.9),(22.75,-1.2,0.9),(22.85,2.7,2.9)],
    [(24.4,2.4,2.8),(24.7,0.6,1.8),(25.0,0.0,1.5),(25.3,-0.2,1.3),(25.55,-0.3,1.2),(25.65,2.7,2.8)],
]

# ---------------- axes ----------------
Y_RANGES = [(-0.75, 10.7), (-0.78, 11.08), (-0.26, 0.674), (-0.71, 3.97), (-1.57, 6.28)]
Y_TICKS = [[0, 2, 4, 6, 8, 10], [0, 2, 4, 6, 8, 10], [-0.2, 0.0, 0.2, 0.4, 0.6], [0, 1, 2, 3], [0, 2, 4, 6]]
Y_LABELS = ["NH<sub>4</sub>", "NO<sub>3</sub>", "N<sub>2</sub>O", "O<sub>2</sub>", "SS"]
Y_DOMAINS = [(0.8252, 1.0), (0.6184, 0.792), (0.4116, 0.5852), (0.206, 0.3792), (0.0, 0.1724)]
SMOOTH_PANELS = [True, True, False, False, False]

C_RS, C_SR, C_G, C_SM, C_LG = "#1f77b4", "#ff7f0e", "#2ca02c", "#d62728", "#9467bd"


def rgba(hexc, a):
    hexc = hexc.lstrip("#")
    r, g, b = int(hexc[0:2], 16), int(hexc[2:4], 16), int(hexc[4:6], 16)
    return f"rgba({r},{g},{b},{a})"


def tx(hs):
    return list(BASE + pd.to_timedelta(np.asarray(hs, dtype=float), unit="h"))


fig = go.Figure()


def axes_for(i):
    return ("x" if i == 0 else f"x{i+1}"), ("y" if i == 0 else f"y{i+1}")


def add_band(tri, color, alpha, i):
    xa, ya = axes_for(i)
    h = [t[0] for t in tri]
    lo = [t[1] for t in tri]
    hi = [t[2] for t in tri]
    fig.add_trace(go.Scatter(x=tx(h) + tx(h[::-1]), y=hi + lo[::-1], fill="toself",
                             fillcolor=rgba(color, alpha), line=dict(width=0), mode="lines",
                             showlegend=False, hoverinfo="skip", xaxis=xa, yaxis=ya))


def add_line(pts, color, width, i, name=None, legend="legend", show=False, opacity=1.0, smooth=False):
    xa, ya = axes_for(i)
    line = dict(color=color, width=width)
    if smooth:
        line.update(shape="spline", smoothing=0.7)
    fig.add_trace(go.Scatter(x=tx([p[0] for p in pts]), y=[p[1] for p in pts], mode="lines",
                             line=line, opacity=opacity,
                             name=name, legend=legend, showlegend=show, hoverinfo="skip",
                             xaxis=xa, yaxis=ya))


PANELS = [
    (NH4_TRUTH, NH4_RS, NH4_SR, NH4_G, NH4_SMALL, NH4_LARGE, NH4_SMALL_BAND, NH4_LARGE_BAND, NH4_RS_PATCHES, NH4_SR_PATCHES, NH4_G_PATCHES),
    (NO3_TRUTH, NO3_RS, NO3_SR, NO3_G, NO3_SMALL, NO3_LARGE, NO3_SMALL_BAND, NO3_LARGE_BAND, NO3_RS_PATCHES, NO3_SR_PATCHES, NO3_G_PATCHES),
    (N2O_TRUTH, N2O_RS, N2O_SR, N2O_G, N2O_SMALL, N2O_LARGE, N2O_SMALL_BAND, N2O_LARGE_BAND, N2O_RS_PATCHES, N2O_SR_PATCHES, N2O_G_PATCHES),
    (O2_TRUTH, O2_RS, O2_SR, O2_G, O2_SMALL, O2_LARGE, O2_SMALL_BAND, O2_LARGE_BAND, O2_RS_PATCHES, O2_SR_PATCHES, O2_G_PATCHES),
    (SS_TRUTH, SS_RS, SS_SR, SS_G, SS_SMALL, SS_LARGE, SS_SMALL_BAND, SS_LARGE_BAND, SS_RS_PATCHES, SS_SR_PATCHES, SS_G_PATCHES),
]

for i, (tr, rs, sr, g, sm, lg, smb, lgb, rsp, srp, gp) in enumerate(PANELS):
    first = i == 0
    sm_ = SMOOTH_PANELS[i]
    add_band(smb, C_SM, 0.2, i)
    add_band(lgb, C_LG, 0.2, i)
    for p in rsp:
        add_band(p, C_RS, 0.2, i)
    for p in srp:
        add_band(p, C_SR, 0.2, i)
    for p in gp:
        add_band(p, C_G, 0.2, i)
    for ser, col in ((rs, C_RS), (sr, C_SR), (g, C_G)):
        add_line(ser, col, 7, i, opacity=0.15, smooth=sm_)
    add_line(rs, C_RS, 1.7, i, "CCSS-RS", "legend", first, smooth=sm_)
    add_line(sr, C_SR, 1.7, i, "CCSS-SR", "legend", first, smooth=sm_)
    add_line(g, C_G, 1.7, i, "CCSS-G", "legend", first, smooth=sm_)
    add_line(sm, C_SM, 1.7, i, "Neural CDE Small", "legend2", first, smooth=True)
    add_line(lg, C_LG, 1.7, i, "Neural CDE Large", "legend2", first, smooth=True)
    add_line(tr, "#000000", 2.8, i, "Truth", "legend", first)

for tr_ in fig.data:
    if tr_.name == "Truth":
        tr_.legendrank = 1
    elif tr_.name == "CCSS-RS":
        tr_.legendrank = 2
    elif tr_.name == "CCSS-SR":
        tr_.legendrank = 3
    elif tr_.name == "CCSS-G":
        tr_.legendrank = 4

FONT = "DejaVu Sans"
layout = dict(
    width=991, height=923, plot_bgcolor="white", paper_bgcolor="white",
    margin=dict(l=52, r=8, t=63, b=38),
    font=dict(family=FONT, size=12, color="#222"),
    title=dict(text="Open-Loop WWTP Simulation for Digital-Twin Operator Support",
               x=0.5, xref="container", y=1 - 15 / 923, yref="container", yanchor="middle",
               xanchor="center", font=dict(family="Lato", size=17.5, color="#111")),
    legend=dict(x=0.007, y=0.9925, xanchor="left", yanchor="top", orientation="h",
                bgcolor="rgba(0,0,0,0)", font=dict(size=12.5, family=FONT), itemwidth=30,
                traceorder="normal"),
    legend2=dict(x=0.03, y=0.9685, xanchor="left", yanchor="top", orientation="h",
                 bgcolor="rgba(0,0,0,0)", font=dict(size=12.5, family=FONT), itemwidth=30),
    showlegend=True,
)
fig.update_layout(**layout)

x_range = tx([-1.40, 35.2])
for i in range(5):
    xname = "xaxis" if i == 0 else f"xaxis{i+1}"
    yname = "yaxis" if i == 0 else f"yaxis{i+1}"
    xa, ya = axes_for(i)
    fig.layout[xname] = dict(
        domain=[0, 1], anchor=ya, range=x_range, type="date",
        tick0=BASE, dtick=4 * 3600 * 1000, tickformat="%m-%d %H",
        showticklabels=(i == 4), ticks="outside", ticklen=5, tickcolor="#333",
        showgrid=True, gridcolor="#ebebeb", gridwidth=1,
        showline=True, linecolor="#222", linewidth=1, mirror=True,
        zeroline=False, tickfont=dict(size=12.5, family=FONT, color="#222"),
        matches=None if i == 0 else "x",
    )
    fig.layout[yname] = dict(
        domain=list(Y_DOMAINS[i]), anchor=xa, range=list(Y_RANGES[i]),
        tickvals=Y_TICKS[i], tickformat=(".1f" if i == 2 else "d"),
        ticks="outside", ticklen=5, tickcolor="#333",
        showgrid=True, gridcolor="#ebebeb", gridwidth=1,
        showline=True, linecolor="#222", linewidth=1, mirror=True,
        zeroline=False, tickfont=dict(size=12, family=FONT, color="#222"),
    )
    yc = (Y_DOMAINS[i][0] + Y_DOMAINS[i][1]) / 2
    fig.add_annotation(text=Y_LABELS[i], x=-0.041, y=yc, xref="paper", yref="paper",
                       showarrow=False, textangle=-90, xanchor="center", yanchor="middle",
                       font=dict(size=12.5, family=FONT, color="#222"))

fig.add_annotation(text="Time", x=0.5, y=-0.037, xref="paper", yref="paper", showarrow=False,
                   xanchor="center", yanchor="middle", font=dict(size=12.5, family=FONT, color="#222"))

fig.add_shape(type="rect", xref="paper", yref="paper", x0=0.0075, x1=0.4145, y0=0.9425, y1=0.9964,
              line=dict(color="#cccccc", width=1), fillcolor="rgba(255,255,255,0.8)", layer="above")

fig.write_html("out.html")
